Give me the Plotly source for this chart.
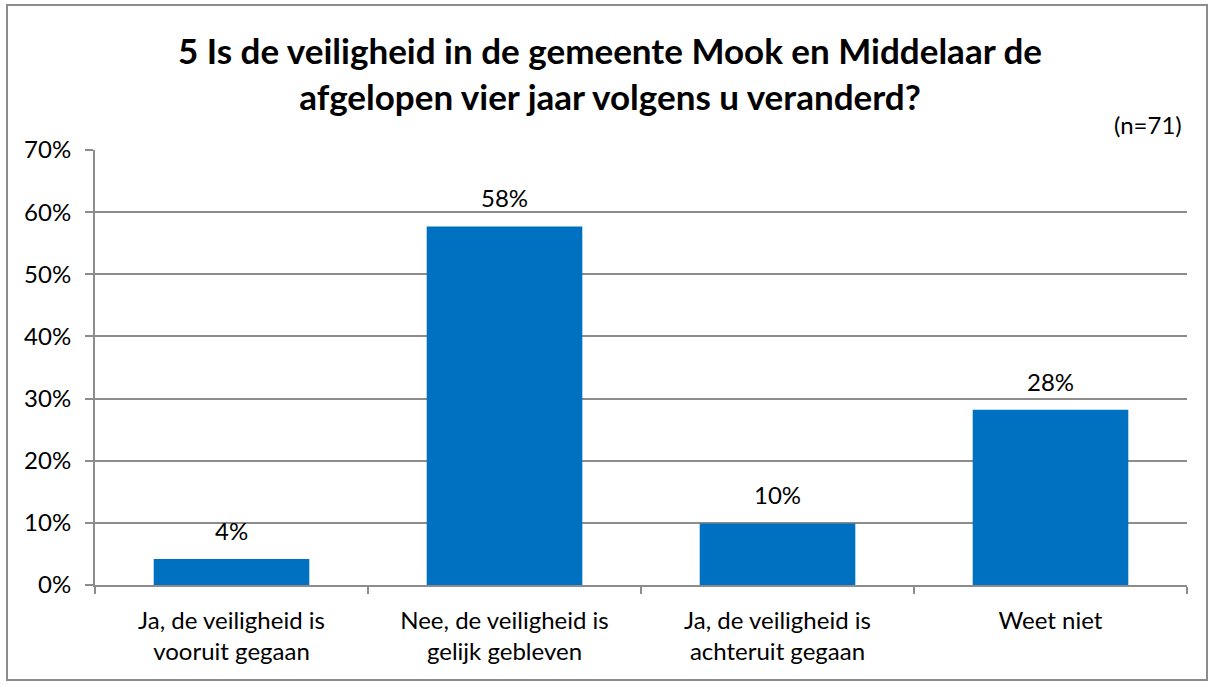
import plotly.graph_objects as go

categories = ["Ja, de veiligheid is<br>vooruit gegaan",
              "Nee, de veiligheid is<br>gelijk gebleven",
              "Ja, de veiligheid is<br>achteruit gegaan",
              "Weet niet"]
values = [4.2, 57.7, 9.9, 28.2]
labels = ["4%", "58%", "10%", "28%"]
y_ticks = [0, 10, 20, 30, 40, 50, 60, 70]
y_ticktext = [f"{v}%" for v in y_ticks]

W, H = 1213, 684
L, R, T, B = 95, 26, 150, 99
FONT = "Lato"
GREY = "#8c8c8c"
FS = 24

fig = go.Figure(go.Bar(
    x=categories, y=values,
    marker=dict(color="#0070C0", line=dict(width=0)),
    width=0.57, hoverinfo="skip",
))

pw, ph = W - L - R, H - T - B
def px(x):
    return (x - L) / pw
def py(y):
    return (H - B - y) / ph

annotations = [
    dict(x=c, y=v, text=t, xref="x", yref="y", showarrow=False,
         yanchor="bottom", yshift=12, font=dict(size=FS, family=FONT, color="black"))
    for c, v, t in zip(categories, values, labels)
]
annotations += [
    dict(text="<b>5 Is de veiligheid in de gemeente Mook en Middelaar de<br>afgelopen vier jaar volgens u veranderd?</b>",
         x=px(610), y=py(73), xref="paper", yref="paper",
         xanchor="center", yanchor="middle", showarrow=False,
         font=dict(size=35, family=FONT, color="black"), align="center"),
    dict(text="(n=71)", x=px(1184), y=py(125), xref="paper", yref="paper",
         xanchor="right", yanchor="middle", showarrow=False,
         font=dict(size=FS, family=FONT, color="black")),
]

fig.update_layout(
    width=W, height=H,
    margin=dict(l=L, r=R, t=T, b=B),
    paper_bgcolor="white", plot_bgcolor="white",
    font=dict(family=FONT, size=FS, color="black"),
    showlegend=False,
    xaxis=dict(
        tickson="boundaries", ticks="outside", ticklen=7, tickcolor=GREY, tickwidth=2,
        showline=True, linecolor=GREY, linewidth=2, showgrid=False,
        tickfont=dict(size=FS, family=FONT), ticklabelstandoff=13,
    ),
    yaxis=dict(
        range=[0, 70], tickvals=y_ticks, ticktext=y_ticktext,
        ticks="outside", ticklen=8, tickcolor=GREY, tickwidth=2,
        showgrid=True, gridcolor=GREY, gridwidth=1.5,
        showline=True, linecolor=GREY, linewidth=2,
        tickfont=dict(size=FS, family=FONT), zeroline=False,
        ticklabelstandoff=9,
    ),
    annotations=annotations,
    shapes=[
        dict(type="rect", xref="paper", yref="paper",
             x0=px(7), x1=px(1207), y0=py(680), y1=py(5),
             line=dict(color=GREY, width=2), fillcolor="rgba(0,0,0,0)"),
    ],
)

fig.write_html("out.html", config={"displayModeBar": False},
               post_script="document.body.style.margin='0px';document.body.style.overflow='hidden';")
